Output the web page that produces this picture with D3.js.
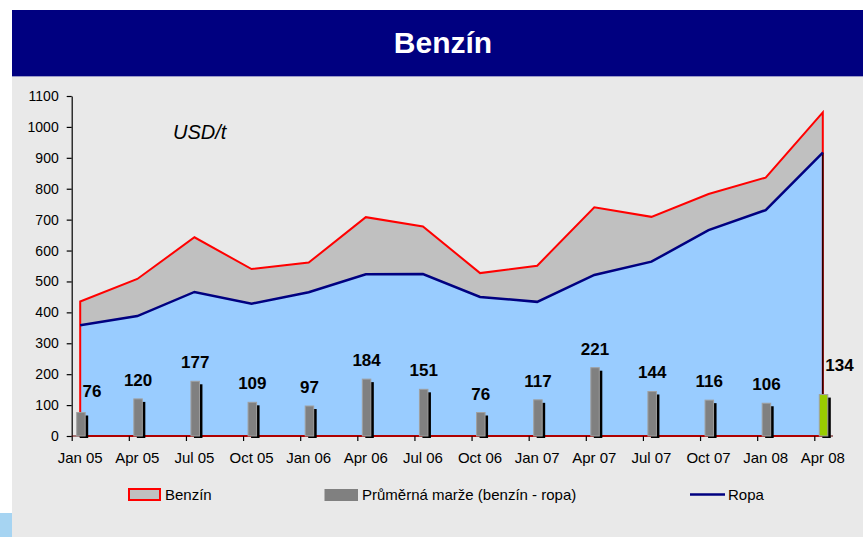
<!DOCTYPE html>
<html>
<head>
<meta charset="utf-8">
<script src="https://cdn.jsdelivr.net/npm/d3@7"></script>
<style>
  body { margin: 0; background: #fff; }
  svg { display: block; font-family: Arial, "Liberation Sans", sans-serif; }
</style>
</head>
<body>
<div id="chart"></div>
<script>
// data (USD/t)
const months = ["Jan 05", "Apr 05", "Jul 05", "Oct 05", "Jan 06", "Apr 06", "Jul 06",
                "Oct 06", "Jan 07", "Apr 07", "Jul 07", "Oct 07", "Jan 08", "Apr 08"];
const benzin = [435, 508, 643, 540, 561, 708, 678, 527, 551, 740, 709, 783, 836, 1047];
const ropa   = [358, 388, 466, 428, 465, 523, 524, 450, 434, 521, 564, 666, 731, 917];
const marze  = [76, 120, 177, 109, 97, 184, 151, 76, 117, 221, 144, 116, 106, 134];
const yTicks = [0, 100, 200, 300, 400, 500, 600, 700, 800, 900, 1000, 1100];

(function () {
  const W = 863, H = 537;
  const svg = d3.select("#chart").append("svg")
      .attr("width", W)
      .attr("height", H);

  // backgrounds
  svg.append("rect").attr("x", 12).attr("y", 76).attr("width", W - 12).attr("height", H - 76)
    .attr("fill", "#e9e9e9");
  svg.append("rect").attr("x", 0).attr("y", 513).attr("width", 12).attr("height", 24)
    .attr("fill", "#a6d4f2");
  svg.append("rect").attr("x", 12).attr("y", 10).attr("width", W - 12).attr("height", 66)
    .attr("fill", "#000080");
  svg.append("line").attr("x1", 12).attr("x2", W).attr("y1", 76.5).attr("y2", 76.5)
    .attr("stroke", "#9a9ac8").attr("stroke-width", 1);
  svg.append("text").attr("x", 443).attr("y", 53)
    .attr("text-anchor", "middle").attr("fill", "#fff")
    .attr("font-size", 30).attr("font-weight", "bold")
    .text("Benzín");

  // scales: ticks sit at category edges, data at +8.5
  const x = d3.scalePoint().domain(months).range([71.7, 814.3]);
  const off = 8.5;
  const xc = d => x(d) + off;
  const y = d3.scaleLinear().domain([0, 1100]).range([436, 96]);

  const rows = months.map((m, i) => ({ m, b: benzin[i], r: ropa[i], v: marze[i], i }));

  const g = svg.append("g");

  // areas
  const areaB = d3.area().x(d => xc(d.m)).y0(y(0)).y1(d => y(d.b));
  const areaR = d3.area().x(d => xc(d.m)).y0(y(0)).y1(d => y(d.r));
  g.append("path").datum(rows).attr("d", areaB).attr("fill", "#c0c0c0");
  g.append("path").datum(rows).attr("d", areaR).attr("fill", "#99ccff");

  // benzin outline (closed, red)
  g.append("path").datum(rows).attr("d", areaB)
    .attr("fill", "none").attr("stroke", "#ff0000").attr("stroke-width", 2)
    .attr("stroke-linejoin", "miter");

  const last = rows[rows.length - 1];
  g.append("line")
    .attr("x1", xc(last.m)).attr("x2", xc(last.m))
    .attr("y1", y(last.r)).attr("y2", y(0))
    .attr("stroke", "#200000").attr("stroke-width", 1.5);

  // ropa line
  g.append("path").datum(rows)
    .attr("d", d3.line().x(d => xc(d.m)).y(d => y(d.r)))
    .attr("fill", "none").attr("stroke", "#000080").attr("stroke-width", 2.5);

  // y axis
  const yAxis = svg.append("g").attr("transform", "translate(71.7,0)")
    .call(d3.axisLeft(y).tickValues(yTicks).tickFormat(d3.format("d"))
      .tickSize(5).tickSizeOuter(0).tickPadding(8));
  yAxis.selectAll("text").attr("font-size", 14).attr("fill", "#000")
    .attr("font-family", "Arial, 'Liberation Sans', sans-serif");
  yAxis.selectAll("line, path").attr("stroke", "#000").attr("stroke-width", 1.2);

  // x axis: tick marks at x, labels at xc
  const xAxis = svg.append("g").attr("transform", `translate(0,${y(0)})`)
    .call(d3.axisBottom(x).tickSize(5).tickFormat(""));
  xAxis.select(".domain").remove();
  xAxis.selectAll("line").attr("stroke", "#000").attr("stroke-width", 1.2);
  xAxis.append("line").attr("x1", 71.7).attr("x2", 833).attr("y1", 0).attr("y2", 0)
    .attr("stroke", "#600000").attr("stroke-width", 1.2);
  svg.append("g").selectAll("text").data(months).join("text")
    .attr("x", d => xc(d)).attr("y", 462.5)
    .attr("text-anchor", "middle").attr("font-size", 15).attr("fill", "#000")
    .text(d => d);

  // margin bars with a black drop shadow
  const bw = 8.5;
  const bars = svg.append("g");
  bars.selectAll(".shadow").data(rows).join("rect")
    .attr("class", "shadow")
    .attr("x", d => x(d.m) + 5 + 3).attr("y", d => y(d.v) + 3)
    .attr("width", bw).attr("height", d => y(0) - y(d.v) - 1)
    .attr("fill", "#000");
  bars.selectAll(".bar").data(rows).join("rect")
    .attr("class", "bar")
    .attr("x", d => x(d.m) + 5).attr("y", d => y(d.v))
    .attr("width", bw).attr("height", d => y(0) - y(d.v))
    .attr("fill", d => d.i === rows.length - 1 ? "#99cc00" : "#808080")
    .attr("stroke", "#a0a0a0").attr("stroke-width", 1);

  // value labels (first and last nudged as in the original)
  svg.append("g").selectAll("text").data(rows).join("text")
    .attr("x", d => x(d.m) + 5 + bw / 2 + (d.i === 0 ? 11 : d.i === rows.length - 1 ? 16 : 0))
    .attr("y", d => y(d.v) - (d.i === 0 ? 16 : d.i === rows.length - 1 ? 24 : 13))
    .attr("text-anchor", "middle").attr("font-size", 17).attr("font-weight", "bold")
    .attr("fill", "#000")
    .text(d => d.v);

  // unit
  svg.append("text").attr("x", 173).attr("y", 139)
    .attr("font-size", 20).attr("font-style", "italic").attr("fill", "#000")
    .text("USD/t");

  // legend
  const lg = svg.append("g").attr("font-size", 15).attr("fill", "#000");
  lg.append("rect").attr("x", 129).attr("y", 489).attr("width", 31).attr("height", 11)
    .attr("fill", "#c0c0c0").attr("stroke", "#ff0000").attr("stroke-width", 2);
  lg.append("text").attr("x", 165).attr("y", 500).text("Benzín");
  lg.append("rect").attr("x", 324.5).attr("y", 489).attr("width", 33.5).attr("height", 12)
    .attr("fill", "#808080");
  lg.append("text").attr("x", 362).attr("y", 500).text("Průměrná marže (benzín - ropa)");
  lg.append("line").attr("x1", 690).attr("x2", 725).attr("y1", 494.5).attr("y2", 494.5)
    .attr("stroke", "#000080").attr("stroke-width", 2.5);
  lg.append("text").attr("x", 728).attr("y", 500).text("Ropa");
})();
</script>
</body>
</html>
